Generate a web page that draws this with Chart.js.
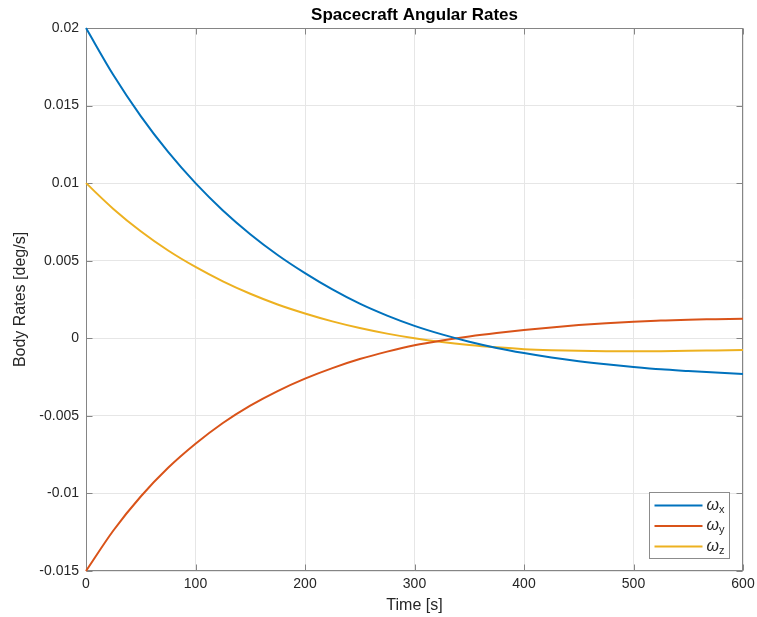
<!DOCTYPE html>
<html>
<head>
<meta charset="utf-8">
<script src="https://cdn.jsdelivr.net/npm/chart.js@4.4.1/dist/chart.umd.min.js"></script>
<style>
  html, body { margin: 0; padding: 0; background: #fff; }
  #wrap { width: 757px; height: 617px; }
</style>
</head>
<body>
<div id="wrap"><canvas id="rates"></canvas></div>
<script>
// time samples [s] and body rates [deg/s]
const times  = [0, 25, 50, 75, 100, 125, 150, 175, 200, 225, 250, 275, 300,
                325, 350, 375, 400, 425, 450, 475, 500, 525, 550, 575, 600];
const omegaX = [0.02, 0.01697, 0.01432, 0.01201, 0.0100, 0.00824, 0.00671, 0.00537, 0.0042,
                0.00315, 0.00223, 0.00146, 0.0008, 0.00025, -0.00022, -0.00062, -0.00095,
                -0.00124, -0.00148, -0.00168, -0.00185, -0.0020, -0.00211, -0.00221, -0.0023];
const omegaY = [-0.015, -0.01239, -0.0102, -0.00835, -0.0068, -0.00546, -0.00434, -0.0034, -0.0026,
                -0.00192, -0.00134, -0.00086, -0.00045, -0.00014, 0.00012, 0.00034, 0.00053,
                0.0007, 0.00085, 0.00097, 0.00107, 0.00114, 0.0012, 0.00123, 0.00126];
const omegaZ = [0.01, 0.00834, 0.0069, 0.00566, 0.0046, 0.00367, 0.00287, 0.00218, 0.0016,
                0.00109, 0.00066, 0.0003, 0.0, -0.00024, -0.00043, -0.00058, -0.0007,
                -0.00077, -0.00081, -0.00083, -0.00084, -0.00083, -0.00081, -0.00078, -0.00075];

const seriesSubs = ['x', 'y', 'z'];
const seriesColors = ['#0072BD', '#D95319', '#EDB120'];

const xTicks = [0, 100, 200, 300, 400, 500, 600];
const yTicks = [-0.015, -0.01, -0.005, 0, 0.005, 0.01, 0.015, 0.02];
const yTickLabels = ['-0.015', '-0.01', '-0.005', '0', '0.005', '0.01', '0.015', '0.02'];

const chartTitle = 'Spacecraft Angular Rates';

const FONT = '"Liberation Sans", Arial, sans-serif';
const TEXT = '#262626';
const FRAME = '#858585';

function toPoints(vals) {
  return times.map((t, i) => ({ x: t, y: vals[i] }));
}

// MATLAB-style box: frame on four sides, ticks pointing inward
const axesBox = {
  id: 'axesBox',
  beforeDatasetsDraw(chart) {
    const { ctx, chartArea: a, scales: { x, y } } = chart;
    const L = Math.round(a.left) + 0.5, R = Math.round(a.right) - 0.5;
    const T = Math.round(a.top) + 0.5, B = Math.round(a.bottom) - 0.5;
    ctx.save();
    ctx.strokeStyle = FRAME;
    ctx.lineWidth = 1;
    ctx.beginPath();
    xTicks.forEach(v => {
      const px = Math.round(x.getPixelForValue(v)) + 0.5;
      ctx.moveTo(px, B); ctx.lineTo(px, B - 6);
      ctx.moveTo(px, T); ctx.lineTo(px, T + 6);
    });
    yTicks.forEach(v => {
      const py = Math.round(y.getPixelForValue(v)) + 0.5;
      ctx.moveTo(L, py); ctx.lineTo(L + 6, py);
      ctx.moveTo(R, py); ctx.lineTo(R - 6, py);
    });
    ctx.stroke();
    ctx.strokeRect(L, T, R - L, B - T);
    ctx.restore();
  },
  // title centred over the axes, not the whole canvas
  afterDraw(chart) {
    const { ctx, chartArea: a } = chart;
    ctx.save();
    ctx.fillStyle = '#000';
    ctx.font = 'bold 17px ' + FONT;
    ctx.textAlign = 'center';
    ctx.textBaseline = 'middle';
    ctx.fillText(chartTitle, (a.left + a.right) / 2, 15);
    ctx.restore();
  }
};

// legend box in the lower right corner of the axes
const boxLegend = {
  id: 'boxLegend',
  afterDatasetsDraw(chart) {
    const { ctx, chartArea: a } = chart;
    const w = 80, h = 66;
    const bx = Math.round(a.right) - 14 - w + 0.5;
    const by = Math.round(a.bottom) - 13 - h + 0.5;
    ctx.save();
    ctx.fillStyle = '#fff';
    ctx.fillRect(bx, by, w, h);
    ctx.strokeStyle = '#8c8c8c';
    ctx.lineWidth = 1;
    ctx.strokeRect(bx, by, w, h);
    chart.data.datasets.forEach((ds, i) => {
      const cy = by + 13 + i * 20.5;
      ctx.strokeStyle = ds.borderColor;
      ctx.lineWidth = 2;
      ctx.beginPath();
      ctx.moveTo(bx + 5, cy);
      ctx.lineTo(bx + 53, cy);
      ctx.stroke();
      ctx.fillStyle = TEXT;
      ctx.textBaseline = 'middle';
      ctx.textAlign = 'left';
      ctx.font = 'italic 16px ' + FONT;
      ctx.fillText('ω', bx + 57, cy);
      const wOm = ctx.measureText('ω').width;
      ctx.font = '11px ' + FONT;
      ctx.fillText(seriesSubs[i], bx + 57 + wOm, cy + 4);
    });
    ctx.restore();
  }
};

const ctx = document.getElementById('rates').getContext('2d');
new Chart(ctx, {
  type: 'line',
  data: {
    datasets: [omegaX, omegaY, omegaZ].map((vals, i) => ({
      label: 'ω' + seriesSubs[i],
      data: toPoints(vals),
      borderColor: seriesColors[i],
      backgroundColor: seriesColors[i],
      borderWidth: 2,
      pointRadius: 0,
      cubicInterpolationMode: 'monotone',
      clip: 4
    }))
  },
  options: {
    responsive: true,
    maintainAspectRatio: false,
    animation: false,
    layout: { padding: { top: 28, right: 14, bottom: 0, left: 0 } },
    plugins: {
      legend: { display: false },
      tooltip: { enabled: false },
      title: { display: false }
    },
    scales: {
      x: {
        type: 'linear',
        min: 0,
        max: 600,
        afterBuildTicks: s => { s.ticks = xTicks.map(v => ({ value: v })); },
        afterFit: s => { s.height = 46; s.paddingLeft = 0; s.paddingRight = 0; },
        grid: { color: '#e6e6e6', drawTicks: false },
        border: { display: false },
        ticks: { color: TEXT, font: { family: FONT, size: 14 }, padding: 5, maxRotation: 0 },
        title: {
          display: true,
          text: 'Time [s]',
          color: TEXT,
          font: { family: FONT, size: 16 },
          padding: { top: 0, bottom: 2 }
        }
      },
      y: {
        type: 'linear',
        min: -0.015,
        max: 0.02,
        afterBuildTicks: s => { s.ticks = yTicks.map(v => ({ value: v })); },
        afterFit: s => { s.width = 86; },
        grid: { color: '#e6e6e6', drawTicks: false },
        border: { display: false },
        ticks: {
          color: TEXT,
          font: { family: FONT, size: 14 },
          padding: 7,
          callback: (v, i) => yTickLabels[i]
        },
        title: {
          display: true,
          text: 'Body Rates [deg/s]',
          color: TEXT,
          font: { family: FONT, size: 16 },
          padding: { top: 11, bottom: 0 }
        }
      }
    }
  },
  plugins: [axesBox, boxLegend]
});
</script>
</body>
</html>
